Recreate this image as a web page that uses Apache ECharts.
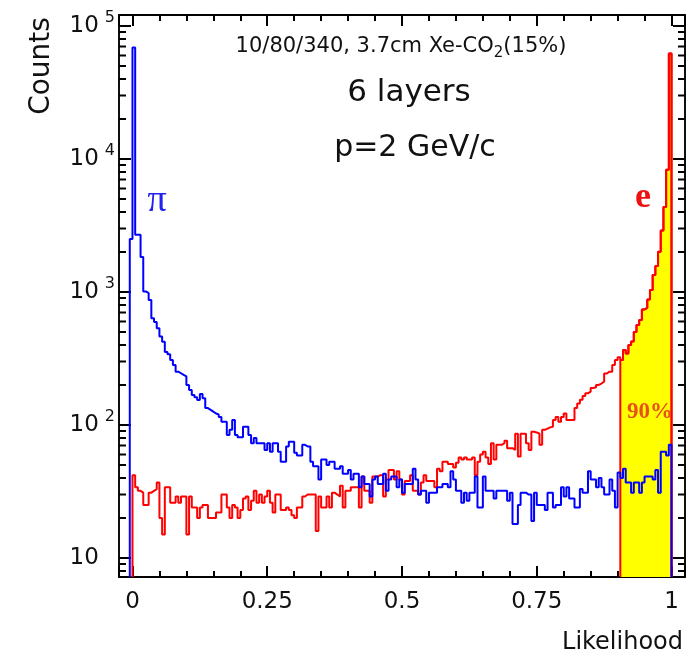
<!DOCTYPE html>
<html>
<head>
<meta charset="utf-8">
<script src="https://cdn.jsdelivr.net/npm/echarts@6.0.0/dist/echarts.min.js"></script>
<style>
html,body{margin:0;padding:0;background:#fff;}
#chart{width:691px;height:661px;}
</style>
</head>
<body>
<div id="chart"></div>
<script>
// ---------------- data ----------------
const binWidth = 0.005;
const blueStart = -0.005;   // pion histogram (first edge)
const blueCounts = [2500,
69000,2690,2690,1830,1010,980,870,636,595,534,
463,423,354,340,308,283,252,245,238,232,
200,183,168,162,154,171,159,134,130,126,
122,120,115,106,106,84,92,109,84,81,
81,97,97,84,73,80,73,73,73,65,
73,63,73,73,63,53,53,69,75,75,
62,59,59,71,69,69,53,49,49,39,
55,55,50,53,53,47,47,49,43,43,
46,39,43,43,34,41,36,36,29,39,
41,36,36,43,32,39,41,41,34,39,
31,36,36,36,47,39,30,32,32,26,
31,31,31,34,34,36,36,34,45,39,
32,32,26,31,27,31,31,41,24,24,
41,32,32,32,28,32,32,32,32,27,
31,18,18,25,31,31,30,30,19,31,
25,25,25,23,31,31,24,25,25,34,
29,34,28,28,24,24,33,31,31,45,
39,39,34,40,34,30,30,39,32,24,
44,40,47,37,37,31,37,37,31,37,
41,41,41,39,46,31,63,63,59,71];
const redStart = 0;         // electron histogram (first edge)
const redCounts = [
42,34,32,31,25,25,31,32,33,37,
20,15,34,34,26,26,29,26,29,29,
15,29,24,24,20,24,25,25,20,20,
20,22,22,30,30,24,20,25,24,20,
23,28,29,23,27,32,26,30,26,29,
32,26,22,30,30,23,23,24,23,21,
20,24,24,29,30,30,30,30,16,29,
24,24,29,24,31,30,29,35,24,32,
32,34,34,34,24,41,32,32,26,41,
41,42,42,29,39,46,46,39,45,39,
30,38,38,42,32,32,30,37,42,38,
38,38,34,47,45,53,53,51,51,48,
52,57,55,57,55,55,57,42,53,60,
63,57,51,73,55,71,71,73,76,67,
67,65,86,58,86,86,73,65,89,88,
86,71,92,94,96,97,109,115,106,115,
122,109,109,109,134,145,155,165,173,178,
190,192,200,205,212,244,252,252,283,308,
323,308,366,345,400,424,500,565,615,740,
760,880,1035,1340,1570,2010,2900,4350,8300,62000];
const cutValue = 0.905;     // 90% electron efficiency cut
const xTickLabels = ['0', '0.25', '0.5', '0.75', '1'];

// ---------------- axes ranges / layout ----------------
const xMin = -0.025, xMax = 1.025;
const yMin = 7.2, yMax = 121000;
const W = 691, H = 661;
const G = {left: 119, right: 6, top: 15, bottom: 84};

function r4(v) { return Math.round(v * 100000) / 100000; }
function histPoints(start, counts) {
  const pts = [[r4(start), yMin]];
  counts.forEach(function (c, i) {
    pts.push([r4(start + i * binWidth), c], [r4(start + (i + 1) * binWidth), c]);
  });
  pts.push([r4(start + counts.length * binWidth), yMin]);
  return pts;
}
const bluePts = histPoints(blueStart, blueCounts);
const redPts = histPoints(redStart, redCounts);
const cutIdx = Math.round((cutValue - redStart) / binWidth);
const yellowPts = histPoints(redStart + cutIdx * binWidth, redCounts.slice(cutIdx));

// log-axis minor ticks (2..9 per decade), drawn as short segments on both sides
const yMinorTicks = [];
[1, 10, 100, 1000, 10000].forEach(function (d) {
  for (let m = 2; m <= 9; m++) { const v = d * m; if (v > yMin && v < yMax) yMinorTicks.push(v); }
});
const gridW = W - G.left - G.right;
const pxPerX = gridW / (xMax - xMin);
const minorTickPts = [];
yMinorTicks.forEach(function (v) {
  const d = 7 / pxPerX;
  minorTickPts.push([xMin, v], [r4(xMin + d), v], '-');
  minorTickPts.push([xMax, v], [r4(xMax - d), v], '-');
});

const SANS = 'DejaVu Sans';
const SERIF = 'Liberation Serif';
const TICK = {color: '#000', width: 2};

function xAx(pos, step, len, labels) {
  return {
    type: 'value', position: pos, min: xMin, max: xMax, minInterval: step, maxInterval: step,
    axisLine: {show: true, onZero: false, lineStyle: {color: '#000', width: 1.5}}, splitLine: {show: false},
    axisTick: {show: true, inside: true, length: len, lineStyle: TICK},
    axisLabel: labels ? {
      margin: 14, fontFamily: SANS, fontSize: 23, color: '#111',
      formatter: function (v) {
        const q = v * 4, r = Math.round(q);
        if (Math.abs(q - r) < 1e-6 && r >= 0 && r <= 4) return xTickLabels[r];
        return '';
      }
    } : {show: false}
  };
}
function yAx(pos, labels) {
  return {
    type: 'log', logBase: 10, position: pos, min: yMin, max: yMax,
    axisLine: {show: true, onZero: false, lineStyle: {color: '#000', width: 1.5}}, splitLine: {show: false}, minorTick: {show: false},
    axisTick: {show: true, inside: true, length: 12, lineStyle: TICK},
    axisLabel: labels ? {
      margin: 4, color: '#111',
      formatter: function (v) {
        const e = Math.log10(v), r = Math.round(e);
        if (Math.abs(e - r) > 1e-4) return '';
        if (r === 1) return '{b|10}{h|0}';
        return '{b|10}{s|' + r + '}';
      },
      rich: {
        b: {fontFamily: SANS, fontSize: 23, color: '#111', verticalAlign: 'middle'},
        s: {fontFamily: SANS, fontSize: 16, color: '#111', verticalAlign: 'middle', padding: [0, 0, 17, 6]},
        h: {fontFamily: SANS, fontSize: 16, color: 'rgba(0,0,0,0)', verticalAlign: 'middle', padding: [0, 0, 17, 6]}
      }
    } : {show: false}
  };
}

const chart = echarts.init(document.getElementById('chart'), null, {renderer: 'canvas'});

const option = {
  animation: false,
  backgroundColor: '#ffffff',
  grid: {left: G.left, right: G.right, top: G.top, bottom: G.bottom, show: true, borderColor: '#000', borderWidth: 1.5, backgroundColor: 'rgba(0,0,0,0)'},
  xAxis: [xAx('bottom', 0.25, 11, true), xAx('bottom', 0.05, 6, false), xAx('top', 0.25, 11, false), xAx('top', 0.05, 6, false)],
  yAxis: [yAx('left', true), yAx('right', false)],
  series: [
    {
      name: 'minor ticks', type: 'line', data: minorTickPts, showSymbol: false, symbol: 'none', z: 10,
      connectNulls: false, lineStyle: TICK, silent: true, clip: false
    },
    {
      name: 'cut', type: 'line', data: yellowPts, showSymbol: false, symbol: 'none', z: 2,
      lineStyle: {color: '#ff0000', width: 2}, areaStyle: {color: '#ffff00', opacity: 1, origin: 'start'},
      silent: true, clip: true
    },
    {
      name: 'e', type: 'line', data: redPts, showSymbol: false, symbol: 'none', z: 3,
      lineStyle: {color: '#ff0000', width: 2}, silent: true, clip: true
    },
    {
      name: 'pi', type: 'line', data: bluePts, showSymbol: false, symbol: 'none', z: 4,
      lineStyle: {color: '#0000ff', width: 2}, silent: true, clip: true
    }
  ],
  graphic: [
    {type: 'text', x: 401, y: 47, z: 20, style: {
      text: '{a|10/80/340, 3.7cm Xe-CO}{s|2}{a|(15%)}', align: 'center', verticalAlign: 'middle',
      rich: {
        a: {fontFamily: SANS, fontSize: 21, fill: '#111', verticalAlign: 'middle'},
        s: {fontFamily: SANS, fontSize: 15, fill: '#111', verticalAlign: 'middle', padding: [12, 0, 0, 0]}
      }}},
    {type: 'text', x: 409, y: 93, z: 20, style: {text: '6 layers', fontFamily: SANS, fontSize: 31, fill: '#111', align: 'center', verticalAlign: 'middle'}},
    {type: 'text', x: 415, y: 148, z: 20, style: {text: 'p=2 GeV/c', fontFamily: SANS, fontSize: 30, fill: '#111', align: 'center', verticalAlign: 'middle'}},
    {type: 'text', x: 157, y: 201, z: 20, style: {text: 'π', fontFamily: SERIF, fontSize: 38, fill: '#2222ee', align: 'center', verticalAlign: 'middle'}},
    {type: 'text', x: 643, y: 198, z: 20, style: {text: 'e', fontFamily: SERIF, fontSize: 36, fontWeight: 'bold', fill: '#ee1111', align: 'center', verticalAlign: 'middle'}},
    {type: 'text', x: 650, y: 412, z: 20, style: {text: '90%', fontFamily: SERIF, fontSize: 23, fontWeight: 'bold', fill: '#e8501a', align: 'center', verticalAlign: 'middle'}},
    {type: 'text', x: 42, y: 66, z: 20, rotation: Math.PI / 2, style: {text: 'Counts', fontFamily: SANS, fontSize: 28, fill: '#111', align: 'center', verticalAlign: 'middle'}},
    {type: 'text', x: 683, y: 643, z: 20, style: {text: 'Likelihood', fontFamily: SANS, fontSize: 24, fill: '#111', align: 'right', verticalAlign: 'middle'}}
  ]
};
chart.setOption(option);
</script>
</body>
</html>
